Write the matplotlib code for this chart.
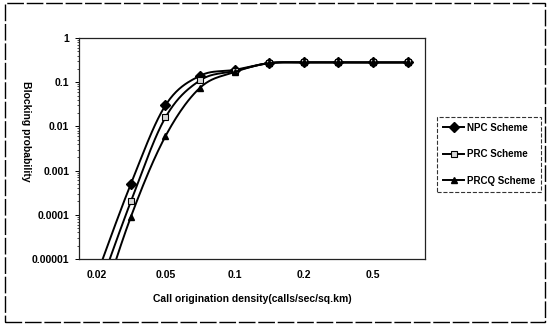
import numpy as np
import matplotlib
matplotlib.use("Agg")
import matplotlib.pyplot as plt
from matplotlib.patches import Rectangle

# categories on the x axis (every other one is labelled)
x_cats = ['0.02', '0.03', '0.05', '0.07', '0.1', '0.15', '0.2', '0.3', '0.5', '0.7']
x_labels = ['0.02', '', '0.05', '', '0.1', '', '0.2', '', '0.5', '']

npc = [4e-6, 5e-4, 0.03, 0.14, 0.19, 0.27, 0.28, 0.28, 0.28, 0.28]
prc = [1.4e-6, 2e-4, 0.016, 0.11, 0.18, 0.27, 0.28, 0.28, 0.28, 0.28]
prcq = [4e-7, 9e-5, 0.006, 0.075, 0.17, 0.27, 0.28, 0.28, 0.28, 0.28]

y_ticks = [1e-5, 1e-4, 1e-3, 1e-2, 1e-1, 1]
y_labels = ['0.00001', '0.0001', '0.001', '0.01', '0.1', '1']


def smooth(xs, ys, n=24):
    # excel-like smoothed line (bezier through points), in log space
    p = np.column_stack([xs, np.log10(ys)])
    out = []
    for i in range(len(p) - 1):
        p0 = p[i - 1] if i > 0 else p[i]
        p1, p2 = p[i], p[i + 1]
        p3 = p[i + 2] if i + 2 < len(p) else p[i + 1]
        c1 = p1 + (p2 - p0) / 6
        c2 = p2 - (p3 - p1) / 6
        t = np.linspace(0, 1, n)[:, None]
        seg = (1 - t) ** 3 * p1 + 3 * (1 - t) ** 2 * t * c1 + 3 * (1 - t) * t ** 2 * c2 + t ** 3 * p2
        out.append(seg if i == 0 else seg[1:])
    out = np.vstack(out)
    return out[:, 0], 10 ** out[:, 1]


plt.rcParams['font.family'] = ['Liberation Sans', 'DejaVu Sans']

fig = plt.figure(figsize=(5.5, 3.29), dpi=100)
ax = fig.add_axes([0.1436, 0.2128, 0.629, 0.6717])

xs = np.arange(len(x_cats))
series = [
    ('NPC Scheme', npc, dict(marker='D', ms=5.5, mfc='black', mec='black')),
    ('PRC Scheme', prc, dict(marker='s', ms=4.5, mfc='#d8d8d8', mec='black', mew=0.8)),
    ('PRCQ Scheme', prcq, dict(marker='^', ms=4.5, mfc='black', mec='black')),
]
for name, vals, mk in series:
    sx, sy = smooth(xs, vals)
    ax.plot(sx, sy, color='black', lw=1.4)
    ax.plot([], [], color='black', lw=1.4, label=name, **mk)
    vis = np.array(vals) >= 1e-5
    ax.plot(xs[vis], np.array(vals)[vis], ls='none', **mk)

ax.set_yscale('log')
ax.set_ylim(1e-5, 1)
ax.set_xlim(-0.5, len(x_cats) - 0.5)
ax.set_yticks(y_ticks)
ax.set_yticklabels(y_labels)
ax.set_xticks(xs)
ax.set_xticklabels(x_labels)
ax.tick_params(axis='x', length=0, pad=8, labelsize=7.5)
ax.tick_params(axis='y', which='major', length=3, width=0.7, labelsize=7.5, pad=4)
ax.tick_params(axis='y', which='minor', length=1.5, width=0.5)
for lab in ax.get_xticklabels() + ax.get_yticklabels():
    lab.set_fontweight('bold')
for s in ax.spines.values():
    s.set_linewidth(0.9)
    s.set_color('#222222')

ax.set_xlabel('Call origination density(calls/sec/sq.km)', fontsize=7.5,
              fontweight='bold', labelpad=10)
fig.text(0.047, 0.60, 'Blocking probability', rotation=270, ha='center', va='center',
         fontsize=7.5, fontweight='bold')

leg = fig.legend(loc='upper left', bbox_to_anchor=(0.795, 0.645), fontsize=7,
                 frameon=True, fancybox=False, borderpad=0.6, labelspacing=1.7,
                 handlelength=2.2, handletextpad=0.3, borderaxespad=0)
leg.get_frame().set_edgecolor('black')
leg.get_frame().set_linestyle('--')
leg.get_frame().set_linewidth(0.8)
for t in leg.get_texts():
    t.set_fontweight('bold')

fig.patches.append(Rectangle((0.009, 0.021), 0.982, 0.970, transform=fig.transFigure,
                             fill=False, ec='black', lw=1.0, ls=(0, (12, 2))))

fig.savefig('out.png', dpi=100)
